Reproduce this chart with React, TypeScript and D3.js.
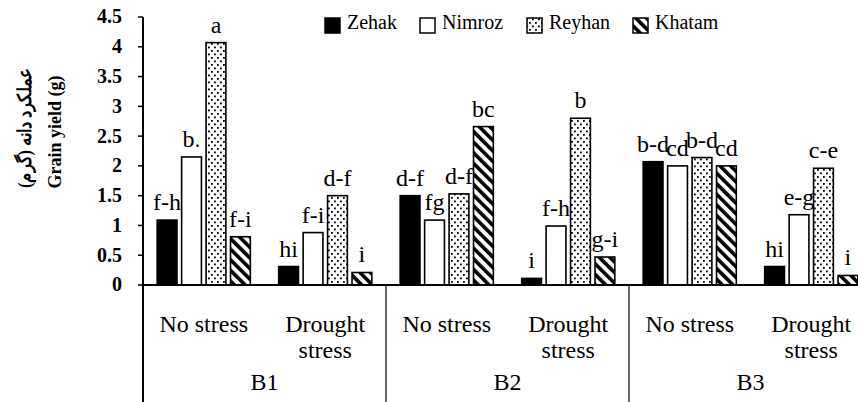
import React from "react";
import * as d3 from "d3";

const blocks = ["B1", "B2", "B3"];
const stresses = ["No stress", "Drought stress"];
const cultivars = ["Zehak", "Nimroz", "Reyhan", "Khatam"];

// order of values: B1 no stress, B1 drought, B2 no stress, B2 drought, B3 no stress, B3 drought
const zehak = [1.09, 0.31, 1.5, 0.11, 2.07, 0.31];
const nimroz = [2.15, 0.88, 1.09, 0.99, 2.0, 1.18];
const reyhan = [4.07, 1.5, 1.53, 2.8, 2.14, 1.96];
const khatam = [0.81, 0.21, 2.66, 0.47, 2.0, 0.16];

const zehakLetters = ["f-h", "hi", "d-f", "i", "b-d", "hi"];
const nimrozLetters = ["b.", "f-i", "fg", "f-h", "cd", "e-g"];
const reyhanLetters = ["a", "d-f", "d-f", "b", "b-d", "c-e"];
const khatamLetters = ["f-i", "i", "bc", "g-i", "cd", "i"];

const yTicks = [0, 0.5, 1, 1.5, 2, 2.5, 3, 3.5, 4, 4.5];

const SERIF = '"Liberation Serif"';

const W = 858;
const H = 402;
const left = 143;
const right = 872; // plot runs past the picture edge, as in the source
const top = 17;
const base = 285;

const series = [zehak, nimroz, reyhan, khatam];
const letters = [zehakLetters, nimrozLetters, reyhanLetters, khatamLetters];
const fills = ["#000", "#fff", "url(#dots)", "url(#stripes)"];

const groups = blocks.flatMap((b) => stresses.map((s) => `${b}|${s}`));

const x0 = d3.scaleBand().domain(groups).range([left, right]);
const x1 = d3
  .scaleBand()
  .domain(cultivars)
  .range([0, x0.bandwidth()])
  .paddingInner(0.19)
  .paddingOuter(0.58);
const xb = d3.scaleBand().domain(blocks).range([left, right]);
const y = d3.scaleLinear().domain([0, 4.5]).range([base, top]);

const legX = [325, 420, 527, 633];

export default function App() {
  const data = groups.flatMap((g, gi) =>
    cultivars.map((c, ci) => ({
      group: g,
      cultivar: c,
      ci,
      value: series[ci][gi],
      letter: letters[ci][gi],
    }))
  );

  return (
    <svg
      width={W}
      height={H}
      style={{ position: "absolute", left: 0, top: 0, background: "#fff" }}
    >
      <defs>
        <pattern id="dots" patternUnits="userSpaceOnUse" width={6} height={7}>
          <rect width={6} height={7} fill="#fff" />
          <rect x={1} y={1} width={1.8} height={1.8} fill="#000" />
          <rect x={4} y={4.5} width={1.8} height={1.8} fill="#000" />
        </pattern>
        <pattern
          id="stripes"
          patternUnits="userSpaceOnUse"
          width={7.5}
          height={8}
          patternTransform="rotate(-45)"
        >
          <rect width={7.5} height={8} fill="#fff" />
          <rect width={3.6} height={8} fill="#000" />
        </pattern>
      </defs>

      {/* bars */}
      {data.map((d, i) => (
        <rect
          key={`b${i}`}
          x={x0(d.group)! + x1(d.cultivar)!}
          y={y(d.value)}
          width={x1.bandwidth()}
          height={base - y(d.value)}
          fill={fills[d.ci]}
          stroke="#000"
          strokeWidth={1.6}
        />
      ))}

      {/* letters */}
      {data.map((d, i) => (
        <text
          key={`l${i}`}
          x={x0(d.group)! + x1(d.cultivar)! + x1.bandwidth() / 2}
          y={y(d.value) - 10}
          textAnchor="middle"
          style={{ fontFamily: SERIF, fontSize: "24px" }}
          fill="#000"
        >
          {d.letter}
        </text>
      ))}

      {/* y axis */}
      {yTicks.map((t) => (
        <g key={`t${t}`} transform={`translate(${left},${y(t)})`}>
          <line x1={-5} x2={0} stroke="#000" strokeWidth={1.5} />
          <text
            x={-21}
            dy="0.32em"
            textAnchor="end"
            style={{ fontFamily: SERIF, fontSize: "20px", fontWeight: "bold" }}
            fill="#000"
          >
            {String(t)}
          </text>
        </g>
      ))}
      <line x1={left} x2={left} y1={top} y2={H} stroke="#000" strokeWidth={2} />
      <line x1={left} x2={right} y1={base} y2={base} stroke="#000" strokeWidth={2} />

      {/* block dividers */}
      {blocks.slice(1).map((b) => (
        <line key={`d${b}`} x1={xb(b)!} x2={xb(b)!} y1={base} y2={H} stroke="#000" strokeWidth={1.2} />
      ))}

      {/* stress labels */}
      {groups.map((g) => {
        const cx = x0(g)! + x0.bandwidth() / 2;
        const words = g.split("|")[1] === "No stress" ? ["No stress"] : ["Drought", "stress"];
        return words.map((w, i) => (
          <text
            key={`${g}${i}`}
            x={cx}
            y={332 + i * 26}
            textAnchor="middle"
            style={{ fontFamily: SERIF, fontSize: "24px" }}
            fill="#000"
          >
            {w}
          </text>
        ));
      })}

      {/* block labels */}
      {blocks.map((b) => (
        <text
          key={`bl${b}`}
          x={xb(b)! + xb.bandwidth() / 2}
          y={390}
          textAnchor="middle"
          style={{ fontFamily: SERIF, fontSize: "24px" }}
          fill="#000"
        >
          {b}
        </text>
      ))}

      {/* y title */}
      <text
        transform="translate(61,132) rotate(-90)"
        textAnchor="middle"
        style={{ fontFamily: SERIF, fontSize: "18px", fontWeight: "bold" }}
        fill="#000"
      >
        Grain yield (g)
      </text>
      <text
        transform="translate(31,128) rotate(-90)"
        textAnchor="middle"
        textLength={120}
        lengthAdjust="spacingAndGlyphs"
        style={{ fontFamily: SERIF, fontSize: "19px", fontWeight: "bold" }}
        fill="#000"
      >
        {"عملکرد دانه (گرم)\u200F"}
      </text>

      {/* legend */}
      {cultivars.map((c, i) => (
        <g key={`lg${c}`}>
          <rect
            x={legX[i]}
            y={18}
            width={15}
            height={15}
            fill={fills[i]}
            stroke="#000"
            strokeWidth={1.5}
          />
          <text
            x={legX[i] + 22}
            y={29}
            style={{ fontFamily: SERIF, fontSize: "20px" }}
            fill="#000"
          >
            {c}
          </text>
        </g>
      ))}
    </svg>
  );
}
